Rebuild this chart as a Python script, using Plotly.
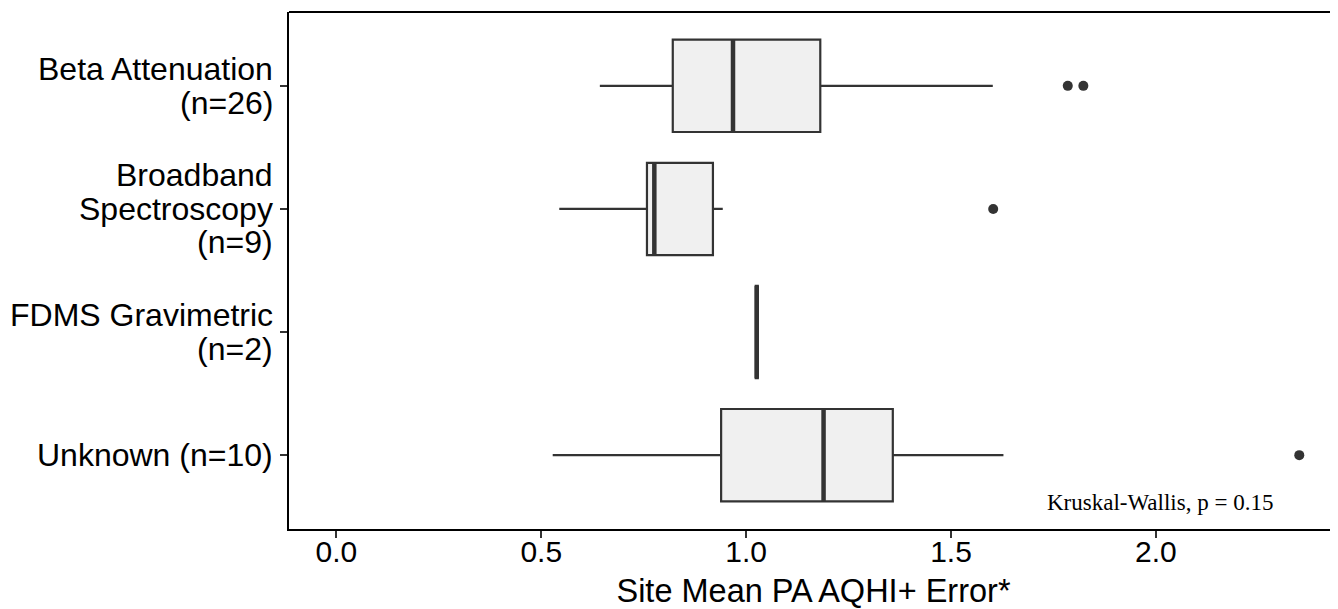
import plotly.graph_objects as go

# ---- data ----
categories = [
    "Beta Attenuation\n(n=26)",
    "Broadband\nSpectroscopy\n(n=9)",
    "FDMS Gravimetric\n(n=2)",
    "Unknown (n=10)",
]
lower_whisker = [0.643, 0.544, 1.021, 0.528]
q1_values = [0.821, 0.758, 1.0235, 0.939]
median_values = [0.968, 0.776, 1.026, 1.189]
q3_values = [1.181, 0.919, 1.0285, 1.358]
upper_whisker = [1.602, 0.943, 1.031, 1.628]
outlier_values = [[1.785, 1.823], [1.603], [], [2.350]]

x_ticks = [0.0, 0.5, 1.0, 1.5, 2.0]
x_tick_labels = ["0.0", "0.5", "1.0", "1.5", "2.0"]
x_title = "Site Mean PA AQHI+ Error*"
test_label = "Kruskal-Wallis, p = 0.15"

positions = list(range(len(categories)))
BOX_W = 0.75
LINE = "#333333"
LABEL_SIZE = 32
LINE_GAP = 33.5

fig = go.Figure()

fig.add_trace(go.Box(
    orientation="h",
    y=positions,
    q1=q1_values,
    median=median_values,
    q3=q3_values,
    lowerfence=lower_whisker,
    upperfence=upper_whisker,
    width=BOX_W,
    whiskerwidth=0,
    fillcolor="#F0F0F0",
    line=dict(color=LINE, width=2.2),
    boxpoints=False,
    hoverinfo="skip",
    showlegend=False,
))

# thicker median lines (ggplot style)
for pos, m in zip(positions, median_values):
    fig.add_trace(go.Scatter(
        x=[m, m], y=[pos - BOX_W / 2, pos + BOX_W / 2],
        mode="lines", line=dict(color=LINE, width=4.5),
        hoverinfo="skip", showlegend=False,
    ))

# outliers
ox, oy = [], []
for pos, vals in zip(positions, outlier_values):
    for v in vals:
        ox.append(v)
        oy.append(pos)
fig.add_trace(go.Scatter(
    x=ox, y=oy, mode="markers",
    marker=dict(color=LINE, size=10, line=dict(width=0)),
    hoverinfo="skip", showlegend=False,
))

# y category labels (tight line spacing like the reference)
for pos, label in zip(positions, categories):
    lines = label.split("\n")
    n = len(lines)
    for k, txt in enumerate(lines):
        offset = (k - (n - 1) / 2) * LINE_GAP
        fig.add_annotation(
            x=0, xref="paper", y=pos, yref="y",
            text=txt, showarrow=False,
            xanchor="right", yanchor="middle",
            xshift=-14, yshift=-offset,
            font=dict(family="Liberation Sans", size=LABEL_SIZE, color="black"),
        )

fig.add_annotation(
    x=2.009, y=3.385, xref="x", yref="y",
    text=test_label, showarrow=False,
    font=dict(family="Liberation Serif", size=23, color="black"),
    xanchor="center", yanchor="middle",
)

# top border of panel
fig.add_shape(type="line", xref="paper", yref="paper", x0=0, x1=1, y0=1, y1=1,
              line=dict(color="black", width=2))

fig.update_layout(
    width=1330, height=601,
    margin=dict(l=281, r=0, t=4, b=80),
    paper_bgcolor="white", plot_bgcolor="white",
    font=dict(family="Liberation Sans", color="black"),
    xaxis=dict(
        range=[-0.1156, 2.4445],
        tickvals=x_ticks, ticktext=x_tick_labels,
        ticks="outside", ticklen=7, tickwidth=1.5, tickcolor=LINE,
        showline=True, linecolor="black", linewidth=2,
        showgrid=False, zeroline=False,
        tickfont=dict(size=30, color="black"),
        ticklabelstandoff=-12,
        title=dict(text=x_title, font=dict(size=32.5, color="black"), standoff=19),
    ),
    yaxis=dict(
        range=[3.6, -0.6],
        tickvals=positions, showticklabels=False,
        ticks="outside", ticklen=7, tickwidth=1.5, tickcolor=LINE,
        showline=True, linecolor="black", linewidth=2,
        showgrid=False, zeroline=False,
    ),
)

fig.write_html("out.html")
